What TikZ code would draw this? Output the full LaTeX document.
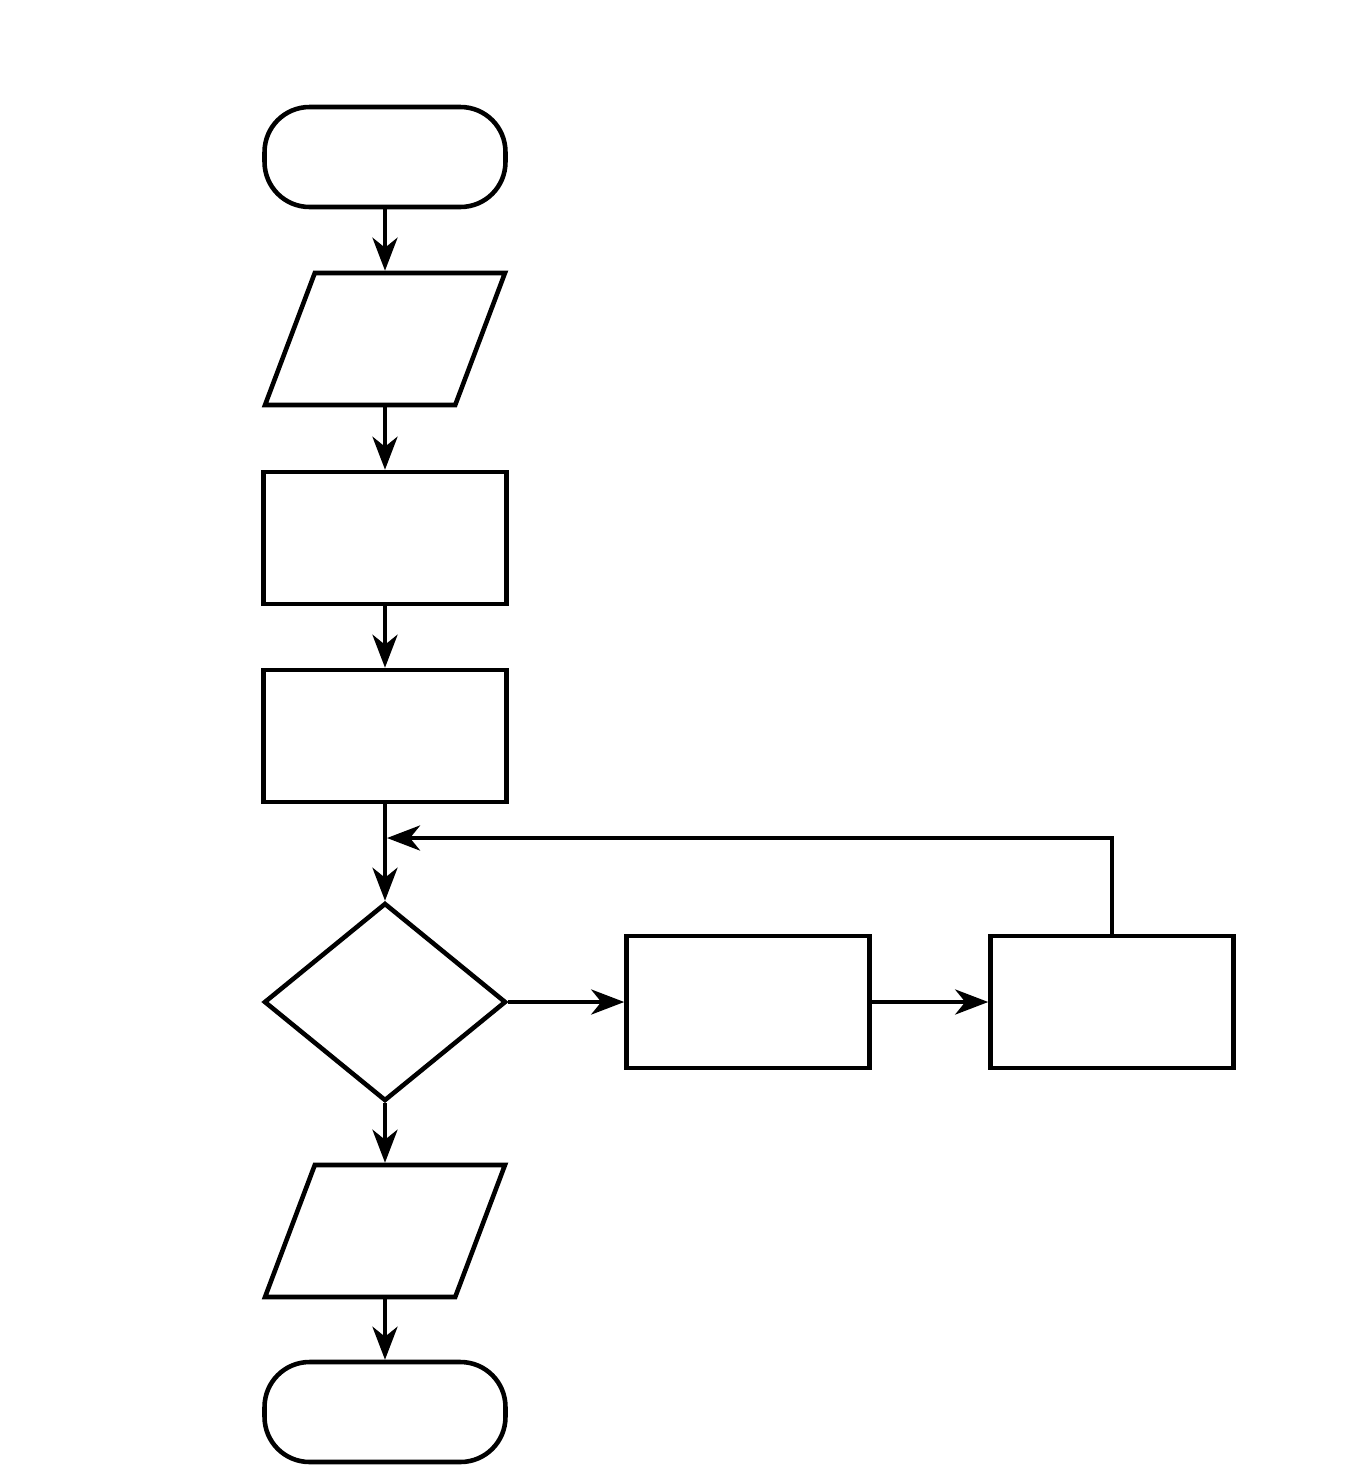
\documentclass[tikz,border=0pt]{standalone}
\usepackage{tikz}
\usetikzlibrary{shapes.geometric,arrows.meta}

\begin{document}
\begin{tikzpicture}[x=0.02cm,y=-0.02cm,
    line width=2.6pt,
    term/.style={draw, rectangle, rounded corners=0.9cm, minimum width=4.82cm, minimum height=2cm, inner sep=0pt},
    io/.style={draw, trapezium, trapezium left angle=70.5, trapezium right angle=109.5, trapezium stretches=true, minimum width=4.8cm, minimum height=2.64cm, inner sep=2pt},
    proc/.style={draw, rectangle, minimum width=4.86cm, minimum height=2.64cm, inner sep=0pt},
    decide/.style={draw, diamond, minimum width=4.84cm, minimum height=3.96cm, inner sep=2pt},
    flow/.style={-{Stealth[length=0.66cm,width=0.5cm,inset=0.2cm]}, line width=2.6pt}]
        \useasboundingbox (0,0) rectangle (1363,1481);
        \def \cx {385}

        \node[term] at (\cx,157) (start) {};
        \node[io] at (\cx,339) (in) {};
        \node[proc] at (\cx,538) (p1) {};
        \node[proc] at (\cx,736) (p2) {};
        \node[decide] at (\cx,1002) (test) {};
        \node[proc] at (748,1002) (p3) {};
        \node[proc] at (1112,1002) (p4) {};
        \node[io] at (\cx,1231) (out) {};
        \node[term] at (\cx,1412) (stop) {};

        \coordinate (merge) at (\cx+2,838);

        \draw[flow] (start)--(in);
        \draw[flow] (in)--(p1);
        \draw[flow] (p1)--(p2);
        \draw[flow] (p2)--(test);
        \draw[flow] (test)--(p3);
        \draw[flow] (p3)--(p4);
        \draw[flow] (p4.north) |- (merge);
        \draw[flow] (test)--(out);
        \draw[flow] (out)--(stop);
\end{tikzpicture}
\end{document}
